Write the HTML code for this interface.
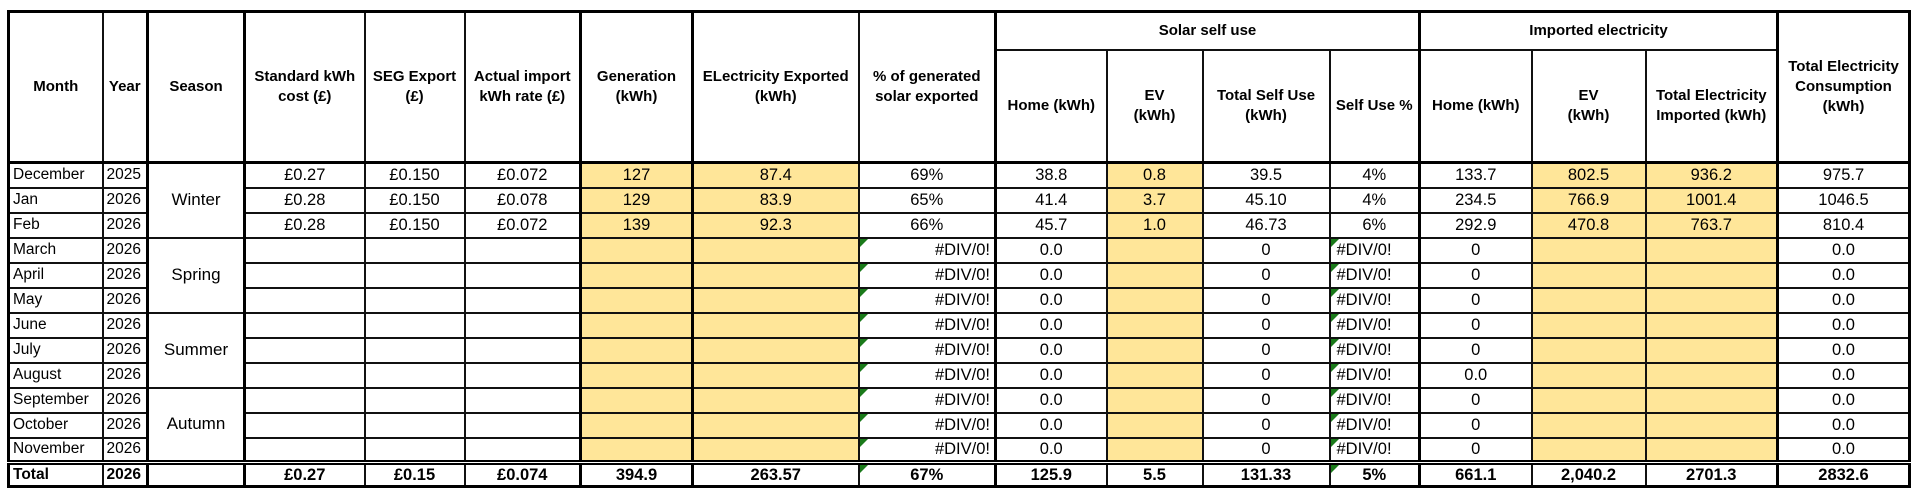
<!DOCTYPE html>
<html><head><meta charset="utf-8">
<style>
html,body{margin:0;padding:0;background:#fff;width:1920px;height:495px;overflow:hidden}
#wrap{position:absolute;left:7px;top:10px}
table{border-collapse:collapse;table-layout:fixed;font-family:"Liberation Sans",sans-serif;color:#000}
td,th{border:2px solid #111;padding:0;text-align:center;font-size:16.5px;line-height:20px;overflow:hidden;white-space:nowrap;position:relative;vertical-align:middle}
th{font-weight:bold;font-size:15px;line-height:20px;white-space:normal}
.y{background:#FFE699}
.n{font-family:"Liberation Sans Narrow","Liberation Sans",sans-serif;text-align:left;padding-left:3px;font-size:15.5px}
.tl{border-left:3px solid #000}
.tr{border-right:3px solid #000}
.tb{border-bottom:3px solid #000}
.tt{border-top:5px double #000}
.tot td{font-weight:bold}
.tri::before{content:"";position:absolute;left:0;top:0;border-top:8px solid #1a7a1a;border-right:8px solid transparent}
.dl{text-align:left;padding-left:6px;font-family:"Liberation Sans Narrow","Liberation Sans",sans-serif}
.dr{text-align:right;padding-right:4px;font-family:"Liberation Sans Narrow","Liberation Sans",sans-serif}
.sea{font-family:"Liberation Sans Narrow","Liberation Sans",sans-serif;font-size:17px}
</style></head><body>
<div id="wrap">
<table id="t" style="border:3px solid #000">
<colgroup>
<col style="width:94px"><col style="width:45px"><col style="width:97px"><col style="width:120px"><col style="width:100px"><col style="width:116px"><col style="width:112px"><col style="width:166px"><col style="width:137px"><col style="width:111px"><col style="width:96px"><col style="width:127px"><col style="width:90px"><col style="width:112px"><col style="width:114px"><col style="width:132px"><col style="width:132px">
</colgroup>
<thead>
<tr style="height:38px">
<th rowspan="2" class="tb">Month</th>
<th rowspan="2" class="tb tr">Year</th>
<th rowspan="2" class="tb tr">Season</th>
<th rowspan="2" class="tb">Standard kWh cost (£)</th>
<th rowspan="2" class="tb">SEG Export (£)</th>
<th rowspan="2" class="tb tr">Actual import kWh rate (£)</th>
<th rowspan="2" class="tb tr">Generation (kWh)</th>
<th rowspan="2" class="tb">ELectricity Exported (kWh)</th>
<th rowspan="2" class="tb tr">% of generated solar exported</th>
<th colspan="4" class="tr">Solar self use</th>
<th colspan="3" class="tr">Imported electricity</th>
<th rowspan="2" class="tb">Total Electricity Consumption (kWh)</th>
</tr>
<tr style="height:113px">
<th class="tb">Home (kWh)</th>
<th class="tb">EV<br>(kWh)</th>
<th class="tb">Total Self Use (kWh)</th>
<th class="tb tr">Self Use %</th>
<th class="tb">Home (kWh)</th>
<th class="tb">EV<br>(kWh)</th>
<th class="tb tr">Total Electricity Imported (kWh)</th>
</tr>
</thead>
<tbody id="tb"></tbody>
</table>
</div>
<script>
const months=["December","Jan","Feb","March","April","May","June","July","August","September","October","November"];
const years=["2025","2026","2026","2026","2026","2026","2026","2026","2026","2026","2026","2026"];
const seasons=["Winter","Spring","Summer","Autumn"];
const stdCost=["£0.27","£0.28","£0.28","","","","","","","","",""];
const segExport=["£0.150","£0.150","£0.150","","","","","","","","",""];
const importRate=["£0.072","£0.078","£0.072","","","","","","","","",""];
const generation=["127","129","139","","","","","","","","",""];
const exported=["87.4","83.9","92.3","","","","","","","","",""];
const pctExported=["69%","65%","66%","#DIV/0!","#DIV/0!","#DIV/0!","#DIV/0!","#DIV/0!","#DIV/0!","#DIV/0!","#DIV/0!","#DIV/0!"];
const selfHome=["38.8","41.4","45.7","0.0","0.0","0.0","0.0","0.0","0.0","0.0","0.0","0.0"];
const selfEv=["0.8","3.7","1.0","","","","","","","","",""];
const selfTotal=["39.5","45.10","46.73","0","0","0","0","0","0","0","0","0"];
const selfPct=["4%","4%","6%","#DIV/0!","#DIV/0!","#DIV/0!","#DIV/0!","#DIV/0!","#DIV/0!","#DIV/0!","#DIV/0!","#DIV/0!"];
const impHome=["133.7","234.5","292.9","0","0","0","0","0","0.0","0","0","0"];
const impEv=["802.5","766.9","470.8","","","","","","","","",""];
const impTotal=["936.2","1001.4","763.7","","","","","","","","",""];
const consumption=["975.7","1046.5","810.4","0.0","0.0","0.0","0.0","0.0","0.0","0.0","0.0","0.0"];
const totals=["Total","2026","","£0.27","£0.15","£0.074","394.9","263.57","67%","125.9","5.5","131.33","5%","661.1","2,040.2","2701.3","2832.6"];

const tb=document.getElementById('tb');
function cell(tr,txt,cls,name){
  const td=document.createElement('td');
  td.textContent=txt;
  if(cls)td.className=cls;
  
  
  tr.appendChild(td);return td;
}
for(let i=0;i<12;i++){
  const tr=document.createElement('tr');
  tr.style.height='25px';
  
  
  cell(tr,months[i],'n','month-cell');
  cell(tr,years[i],'n tr','year-cell');
  if(i%3===0){const s=cell(tr,seasons[i/3],'sea tr','season-cell');s.rowSpan=3;}
  cell(tr,stdCost[i],'','standard-cost-cell');
  cell(tr,segExport[i],'','seg-export-cell');
  cell(tr,importRate[i],'tr','import-rate-cell');
  cell(tr,generation[i],'y tr','generation-cell');
  cell(tr,exported[i],'y','exported-cell');
  cell(tr,pctExported[i],'tr'+(i>2?' tri dr':''),'percent-exported-cell');
  cell(tr,selfHome[i],'','self-home-cell');
  cell(tr,selfEv[i],'y','self-ev-cell');
  cell(tr,selfTotal[i],'','self-total-cell');
  cell(tr,selfPct[i],'tr'+(i>2?' tri dl':''),'self-use-percent-cell');
  cell(tr,impHome[i],'','import-home-cell');
  cell(tr,impEv[i],'y','import-ev-cell');
  cell(tr,impTotal[i],'y tr','import-total-cell');
  cell(tr,consumption[i],'','consumption-cell');
  tb.appendChild(tr);
}
const trt=document.createElement('tr');
trt.className='tot';trt.style.height='24px';


const trCls=[ 'n tt','n tt tr','tt tr','tt','tt','tt tr','tt tr','tt','tt tr tri','tt','tt','tt','tt tr tri','tt','tt','tt tr','tt'];
totals.forEach((t,j)=>{cell(trt,t,trCls[j],'total-cell');});
tb.appendChild(trt);
</script>
</body></html>
